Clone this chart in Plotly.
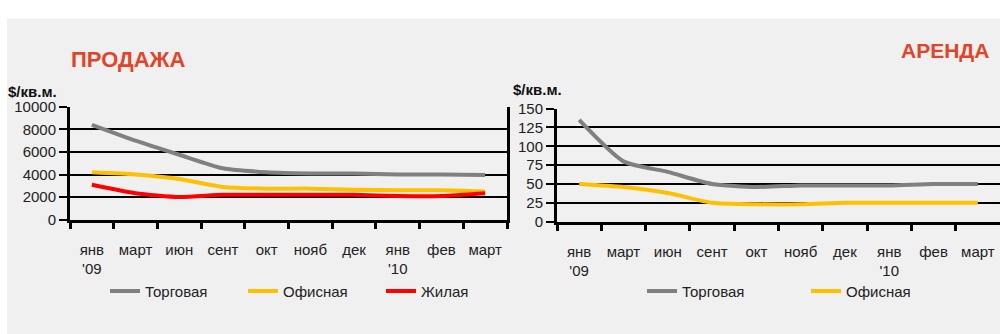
import plotly.graph_objects as go

months = ["янв<br>'09", "март", "июн", "сент", "окт", "нояб", "дек", "янв<br>'10", "фев", "март"]
cats = ["jan09", "mar09", "jun09", "sep09", "oct09", "nov09", "dec09", "jan10", "feb10", "mar10"]

sale_retail = [8400, 7000, 5750, 4550, 4200, 4100, 4100, 4000, 4000, 3950]
sale_office = [4200, 4000, 3600, 2900, 2750, 2750, 2650, 2600, 2600, 2500]
sale_living = [3100, 2350, 2000, 2200, 2200, 2200, 2200, 2100, 2100, 2350]

rent_retail = [135, 80, 66, 50, 46, 48, 48, 48, 50, 50]
rent_office = [50, 46, 38, 25, 23, 23, 25, 25, 25, 25]

names = ["Торговая", "Офисная", "Жилая"]
colors = ["#808080", "#FFC000", "#FF0000"]

W, H = 1000, 334
def px_x(p): return p / W
def px_y(p): return 1 - p / H

FONT = "Liberation Sans"
TXT = "#222"
fig = go.Figure()

for vals, nm, col in zip([sale_retail, sale_office, sale_living], names, colors):
    fig.add_trace(go.Scatter(x=cats, y=vals, name=nm, mode="lines",
                             line=dict(color=col, width=4, shape="spline", smoothing=0.6),
                             xaxis="x", yaxis="y", legend="legend"))
for vals, nm, col in zip([rent_retail, rent_office], names[:2], colors[:2]):
    fig.add_trace(go.Scatter(x=cats, y=vals, name=nm, mode="lines",
                             line=dict(color=col, width=4, shape="spline", smoothing=0.6),
                             xaxis="x2", yaxis="y2", legend="legend2"))

xcommon = dict(type="category", categoryorder="array", categoryarray=cats,
               range=[-0.5, 9.5], tickangle=0,
               tickmode="array", tickvals=cats, ticktext=months,
               tickson="boundaries", ticks="outside", ticklen=6, tickwidth=3,
               tickcolor="black", showline=True, linecolor="black", linewidth=3,
               showgrid=False, zeroline=False, ticklabelstandoff=14,
               tickfont=dict(family=FONT, size=15, color=TXT))
ycommon = dict(showgrid=True, gridcolor="black", gridwidth=2, ticks="outside",
               ticklen=8, tickwidth=2, tickcolor="black", showline=True,
               linecolor="black", linewidth=3, zeroline=False, tickformat="d",
               tickfont=dict(family=FONT, size=15, color=TXT))

fig.update_layout(
    autosize=True, margin=dict(l=0, r=0, t=0, b=0),
    paper_bgcolor="#F0F0F0", plot_bgcolor="rgba(0,0,0,0)",
    xaxis=dict(domain=[px_x(70), px_x(507)], anchor="y", **xcommon),
    yaxis=dict(domain=[px_y(222), px_y(103)], anchor="x", range=[0, 10000],
               tickvals=[0, 2000, 4000, 6000, 8000, 10000], mirror=True, **ycommon),
    xaxis2=dict(domain=[px_x(557), 1.0], anchor="y2", **xcommon),
    yaxis2=dict(domain=[px_y(224), px_y(105)], anchor="x2", range=[0, 150],
                tickvals=[0, 25, 50, 75, 100, 125, 150], **ycommon),
    legend=dict(orientation="h", x=px_x(105), y=px_y(280), xanchor="left", yanchor="top",
                entrywidth=93, entrywidthmode="pixels", bgcolor="rgba(0,0,0,0)",
                font=dict(family=FONT, size=15, color=TXT)),
    legend2=dict(orientation="h", x=px_x(642), y=px_y(280), xanchor="left", yanchor="top",
                 entrywidth=119, entrywidthmode="pixels", bgcolor="rgba(0,0,0,0)",
                 font=dict(family=FONT, size=15, color=TXT)),
    shapes=[
        dict(type="rect", xref="paper", yref="paper", x0=-0.05, x1=1.05, y0=px_y(10), y1=1.1,
             fillcolor="white", line=dict(width=0), layer="below"),
        dict(type="rect", xref="paper", yref="paper", x0=-0.05, x1=px_x(7), y0=-0.1, y1=1.1,
             fillcolor="white", line=dict(width=0), layer="below"),
    ],
    annotations=[
        dict(text="<b>ПРОДАЖА</b>", x=px_x(69), y=px_y(53), xref="paper", yref="paper",
             xanchor="left", yanchor="middle", showarrow=False,
             font=dict(family=FONT, size=22, color="#E0452A")),
        dict(text="<b>АРЕНДА</b>", x=px_x(991), y=px_y(44), xref="paper", yref="paper",
             xanchor="right", yanchor="middle", showarrow=False,
             font=dict(family=FONT, size=21, color="#E0452A")),
        dict(text="<b>$/кв.м.</b>", x=px_x(6), y=px_y(87), xref="paper", yref="paper",
             xanchor="left", yanchor="middle", showarrow=False,
             font=dict(family=FONT, size=15, color="#111")),
        dict(text="<b>$/кв.м.</b>", x=px_x(511), y=px_y(85), xref="paper", yref="paper",
             xanchor="left", yanchor="middle", showarrow=False,
             font=dict(family=FONT, size=15, color="#111")),
    ],
)

POST = (
    "var h=document.documentElement, b=document.body;"
    "h.style.margin='0'; h.style.overflow='hidden';"
    "b.style.margin='0'; b.style.overflow='hidden'; b.style.background='#F0F0F0';"
)
fig.write_html("out.html", default_width="100vw", default_height="100vh", post_script=POST)
